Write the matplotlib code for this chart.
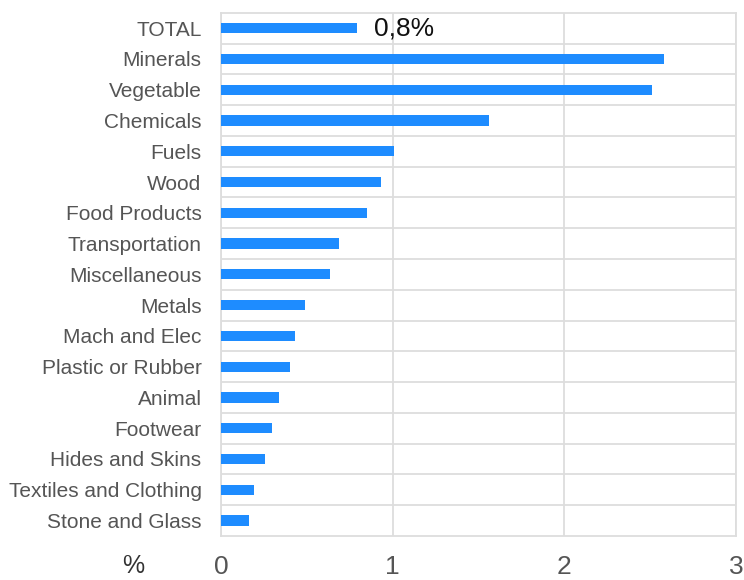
import numpy as np
import matplotlib.pyplot as plt

# Values (%)
categories = ["TOTAL", "Minerals", "Vegetable", "Chemicals", "Fuels", "Wood",
              "Food Products", "Transportation", "Miscellaneous", "Metals",
              "Mach and Elec", "Plastic or Rubber", "Animal", "Footwear",
              "Hides and Skins", "Textiles and Clothing", "Stone and Glass"]
values = [0.79, 2.58, 2.51, 1.56, 1.01, 0.93, 0.85, 0.69, 0.635, 0.49,
          0.43, 0.40, 0.34, 0.295, 0.255, 0.195, 0.165]
xticks = [0, 1, 2, 3]
total_label = "0,8%"

plt.rcParams['font.family'] = ['Liberation Sans', 'DejaVu Sans']

fig = plt.figure(figsize=(7.44, 5.8), dpi=100)
ax = fig.add_axes([0.297, 0.076, 0.692, 0.902])

y = np.arange(len(categories))
ax.barh(y, values, height=0.33, color="#1e8cff", zorder=3)

ax.set_xlim(0, 3)
ax.set_ylim(len(categories) - 0.5, -0.5)
ax.set_xticks(xticks)
ax.set_xticklabels([str(t) for t in xticks], fontsize=19, color="#555555")
ax.set_yticks(y)
ax.set_yticklabels(categories, fontsize=15, color="#555555")
ax.set_yticks(y[:-1] + 0.5, minor=True)

ax.tick_params(axis="x", length=0, pad=14)
ax.tick_params(axis="y", which="both", length=0, pad=14)

ax.grid(axis="x", color="#dddddd", lw=1.3, zorder=0)
ax.grid(axis="y", which="minor", color="#dddddd", lw=1.3, zorder=0)
for s in ax.spines.values():
    s.set_color("#dddddd")
    s.set_linewidth(1.3)

ax.text(values[0] + 0.1, 0, total_label, fontsize=19, color="#111111",
        va="center", ha="left", zorder=4)

fig.text(133 / 744, 1 - 566 / 580, "%", fontsize=18, color="#333333",
         ha="center", va="center")

fig.savefig("out.png", dpi=100)
